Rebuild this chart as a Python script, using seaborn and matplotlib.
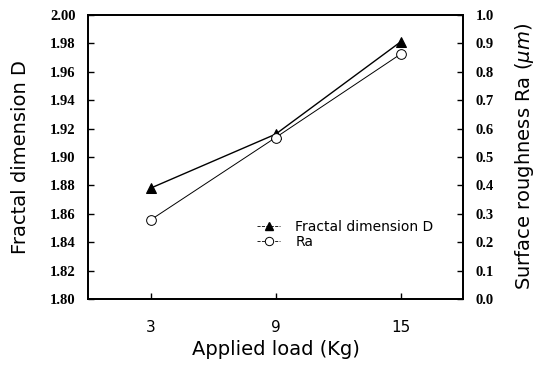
import matplotlib
matplotlib.use("Agg")
import matplotlib.pyplot as plt
import seaborn as sns
import pandas as pd
from matplotlib.lines import Line2D

loads = [3, 9, 15]
fractal_D = [1.878, 1.916, 1.981]
ra_um = [0.278, 0.568, 0.862]
left_ticks = [1.80, 1.82, 1.84, 1.86, 1.88, 1.90, 1.92, 1.94, 1.96, 1.98, 2.00]
right_ticks = [0.0, 0.1, 0.2, 0.3, 0.4, 0.5, 0.6, 0.7, 0.8, 0.9, 1.0]

df = pd.DataFrame({"load": loads, "D": fractal_D, "Ra": ra_um})

sns.set_style("ticks")
plt.rcParams['font.family'] = ['DejaVu Sans']
plt.rcParams.update({"text.color": "black", "axes.labelcolor": "black",
                     "xtick.color": "black", "ytick.color": "black"})

fig = plt.figure(figsize=(5.35, 3.65), dpi=100)
ax = fig.add_axes([0.1645, 0.181, 0.701, 0.778])
ax2 = ax.twinx()

sns.lineplot(data=df, x="load", y="D", ax=ax, color="black", lw=1.0,
             marker="^", markersize=7, markeredgecolor="black", markerfacecolor="black")
sns.lineplot(data=df, x="load", y="Ra", ax=ax2, color="black", lw=0.7,
             marker="o", markersize=7, markeredgecolor="black", markerfacecolor="white",
             markeredgewidth=0.7)

ax.set_xlim(0, 18)
ax.set_ylim(1.80, 2.00)
ax2.set_ylim(0.0, 1.0)
ax.set_xticks(loads)
ax.set_xticklabels([str(v) for v in loads], fontsize=11)
ax.set_yticks(left_ticks)
ax.set_yticklabels([f"{v:.2f}" for v in left_ticks], fontsize=10.5,
                   family="Liberation Serif", fontweight="bold")
ax2.set_yticks(right_ticks)
ax2.set_yticklabels([f"{v:.1f}" for v in right_ticks], fontsize=10.5,
                    family="Liberation Serif", fontweight="bold")

ax.tick_params(axis="y", direction="in", length=4, width=1, pad=9, colors="black")
ax.tick_params(axis="x", direction="in", length=4, width=1, pad=15, colors="black")
ax2.tick_params(axis="y", direction="in", length=4, width=1, pad=9, colors="black")

ax.set_xlabel("Applied load (Kg)", fontsize=14, labelpad=4, color="black")
ax.set_ylabel("Fractal dimension D", fontsize=14, labelpad=14, color="black")
ax2.set_ylabel(r"Surface roughness Ra ($\mu m$)", fontsize=14, labelpad=14, color="black")

for a in (ax, ax2):
    for s in a.spines.values():
        s.set_linewidth(1.3)
        s.set_color("black")

handles = [
    Line2D([], [], color="black", lw=0.6, ls="--", marker="^", markersize=6,
           markerfacecolor="black", markeredgecolor="black"),
    Line2D([], [], color="black", lw=0.6, ls="--", marker="o", markersize=6,
           markerfacecolor="white", markeredgecolor="black", markeredgewidth=0.7),
]
leg = ax.legend(handles, ["Fractal dimension D", "Ra"], loc="center left",
                bbox_to_anchor=(0.418, 0.227), frameon=False, fontsize=10,
                handlelength=1.65, handletextpad=1.1, labelspacing=0.1)
for t in leg.get_texts():
    t.set_color("black")

fig.savefig("out.png", dpi=100)
